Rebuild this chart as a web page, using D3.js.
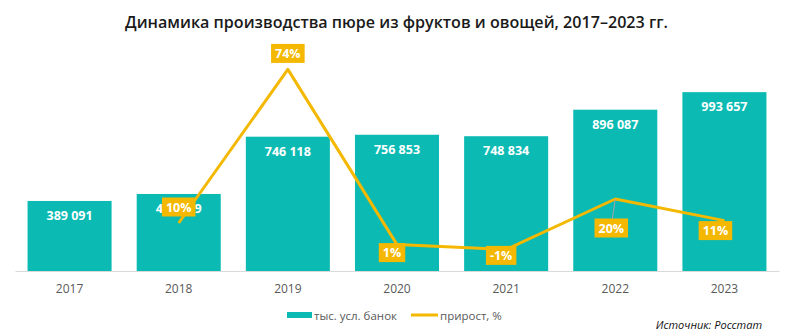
<!DOCTYPE html>
<html><head><meta charset="utf-8">
<script src="https://cdn.jsdelivr.net/npm/d3@7"></script>
<style>
html,body{margin:0;padding:0;background:#fff;}
svg{display:block;font-family:"Open Sans","Noto Sans",sans-serif;}
</style></head>
<body><svg id="c" width="793" height="335"></svg>
<script>
const years = ["2017","2018","2019","2020","2021","2022","2023"];
const volumes = [389091, 427979, 746118, 756853, 748834, 896087, 993657];
const volumeLabels = ["389 091","427 979","746 118","756 853","748 834","896 087","993 657"];
const growth = [null, 10, 74, 1, -1, 20, 11];
const growthLabels = [null, "10%", "74%", "1%", "-1%", "20%", "11%"];
const legendLabels = ["тыс. усл. банок", "прирост, %"];
const titleText = "Динамика  производства  пюре из фруктов  и овощей,  2017–2023  гг.";
const sourceText = "Источник: Росстат";

// label placement (layout only)
const labelDX = [0, 0, 0, -5, -5, -4, -9];
const labelDY = [0, -16, -16, 8, 6, 29, 10];

const teal = "#0BBBB3", gold = "#F4B800", grey = "#595959";
const svg = d3.select("#c");

const x = d3.scaleBand().domain(years).range([15, 779]).paddingInner(0.23).paddingOuter(0.115);
const yBar = d3.scaleLinear().domain([0, 1200000]).range([271, 55]);
const yPct = d3.scaleLinear().domain([-10, 80]).range([271, 55]);

// title
svg.append("text").attr("x", 396.5).attr("y", 28).attr("text-anchor", "middle")
  .attr("font-size", 16).attr("font-weight", 600).attr("fill", "#1a1a1a")
  .attr("textLength", 543).attr("lengthAdjust", "spacingAndGlyphs")
  .text(titleText);

// bars
svg.selectAll("rect.bar").data(volumes).join("rect").attr("class", "bar")
  .attr("x", (d, i) => x(years[i])).attr("width", x.bandwidth())
  .attr("y", d => yBar(d)).attr("height", d => yBar(0) - yBar(d))
  .attr("fill", teal);

// bar labels
svg.selectAll("text.vl").data(volumes).join("text").attr("class", "vl")
  .attr("x", (d, i) => x(years[i]) + x.bandwidth() / 2)
  .attr("y", d => yBar(d) + 19)
  .attr("text-anchor", "middle").attr("font-size", 12.5).attr("font-weight", 700)
  .attr("fill", "#fff").text((d, i) => volumeLabels[i]);

// axis
const ax = svg.append("g").attr("transform", `translate(0,${yBar(0)})`)
  .call(d3.axisBottom(x).tickSize(0).tickPadding(13));
ax.select(".domain").attr("stroke", "#D9D9D9").attr("stroke-width", 1.2);
ax.selectAll("text").attr("font-size", 12).attr("fill", grey)
  .attr("font-family", "'Open Sans','Noto Sans',sans-serif");

// line
const pts = growth.map((g, i) => g === null ? null : [x(years[i]) + x.bandwidth() / 2, yPct(g)]).filter(p => p);
svg.append("path").attr("d", d3.line()(pts)).attr("fill", "none")
  .attr("stroke", gold).attr("stroke-width", 3).attr("stroke-linejoin", "round");

// leader line for 2022
{
  const i = 5;
  const cx = x(years[i]) + x.bandwidth() / 2, cy = yPct(growth[i]);
  svg.append("line").attr("x1", cx).attr("y1", cy).attr("x2", cx + labelDX[i] + 1).attr("y2", cy + labelDY[i] - 9)
    .attr("stroke", "#A6A6A6").attr("stroke-width", 1);
}

// growth labels
growth.forEach((g, i) => {
  if (g === null) return;
  const cx = x(years[i]) + x.bandwidth() / 2 + labelDX[i];
  const cy = yPct(g) + labelDY[i];
  const t = svg.append("text").attr("x", cx).attr("y", cy + 4.5).attr("text-anchor", "middle")
    .attr("font-size", 12.5).attr("font-weight", 700).attr("fill", "#fff").text(growthLabels[i]);
  const bb = t.node().getBBox();
  svg.insert("rect", () => t.node()).attr("x", bb.x - 4).attr("y", cy - 9.5)
    .attr("width", bb.width + 8).attr("height", 19).attr("fill", gold);
});

// legend
const lg = svg.append("g");
lg.append("rect").attr("x", 287).attr("y", 312).attr("width", 25).attr("height", 6).attr("fill", teal);
lg.append("text").attr("x", 314).attr("y", 319.5).attr("font-size", 11.5).attr("fill", grey).text(legendLabels[0]);
lg.append("line").attr("x1", 411).attr("x2", 438).attr("y1", 315).attr("y2", 315)
  .attr("stroke", gold).attr("stroke-width", 3);
lg.append("text").attr("x", 440).attr("y", 319.5).attr("font-size", 11.5).attr("fill", grey).text(legendLabels[1]);

// source
svg.append("text").attr("x", 762).attr("y", 329).attr("text-anchor", "end")
  .attr("font-size", 11).attr("font-style", "italic").attr("fill", "#111").text(sourceText);
</script></body></html>
